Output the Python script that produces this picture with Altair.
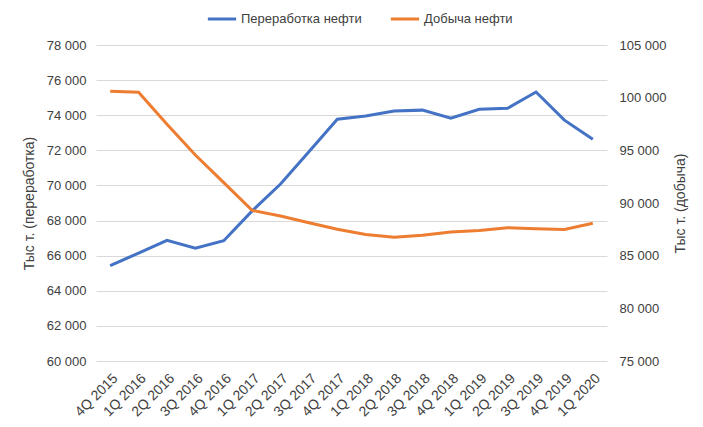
import altair as alt
import pandas as pd

quarters = ["4Q 2015", "1Q 2016", "2Q 2016", "3Q 2016", "4Q 2016", "1Q 2017",
            "2Q 2017", "3Q 2017", "4Q 2017", "1Q 2018", "2Q 2018", "3Q 2018",
            "4Q 2018", "1Q 2019", "2Q 2019", "3Q 2019", "4Q 2019", "1Q 2020"]
refining = [65430, 66150, 66870, 66420, 66850, 68550, 70080, 71920, 73770,
            73950, 74240, 74290, 73830, 74340, 74400, 75320, 73720, 72630]
production = [100600, 100520, 97470, 94550, 91930, 89300, 88760, 88130, 87500,
              87020, 86740, 86930, 87240, 87400, 87650, 87560, 87480, 88070]

series_names = ["Переработка нефти", "Добыча нефти"]
colors = ["#4472C4", "#ED7D31"]

df = pd.DataFrame({"q": quarters, "ref": refining, "prod": production})

FONT = "Liberation Sans"
label_expr = "replace(format(datum.value, ','), ',', ' ')"

x_enc = alt.X("q:O", sort=quarters, title=None,
              scale=alt.Scale(type="point", padding=0.5),
              axis=alt.Axis(labelAngle=-45, labelFontSize=14, labelColor="#404040",
                            labelFont=FONT, domain=False, ticks=False, labelPadding=10,
                            grid=False))

color_scale = alt.Scale(domain=series_names, range=colors)

base = alt.Chart(df)

left = base.mark_line(strokeWidth=3).encode(
    x=x_enc,
    y=alt.Y("ref:Q", title="Тыс т. (переработка)",
            scale=alt.Scale(domain=[60000, 78000], nice=False, zero=False),
            axis=alt.Axis(values=list(range(60000, 78001, 2000)), labelExpr=label_expr,
                          grid=True, gridColor="#D9D9D9", domain=False, ticks=False,
                          labelPadding=10, labelFontSize=13, labelColor="#404040",
                          labelFont=FONT, titleFont=FONT, titleFontSize=14,
                          titleFontWeight="normal", titleColor="#404040",
                          titlePadding=10)),
    color=alt.Color("s:N", scale=color_scale, legend=alt.Legend(
        title=None, orient="none", direction="horizontal", legendX=110, legendY=-42,
        symbolType="stroke", symbolStrokeWidth=3, symbolSize=800,
        labelFontSize=13, labelFont=FONT, labelColor="#404040",
        columnPadding=22, labelOffset=3)),
).transform_calculate(s="'Переработка нефти'")

right = base.mark_line(strokeWidth=3).encode(
    x=x_enc,
    y=alt.Y("prod:Q", title="Тыс т. (добыча)",
            scale=alt.Scale(domain=[75000, 105000], nice=False, zero=False),
            axis=alt.Axis(orient="right", values=list(range(75000, 105001, 5000)),
                          labelExpr=label_expr, grid=False, domain=False, ticks=False,
                          labelPadding=12, labelFontSize=13, labelColor="#404040",
                          labelFont=FONT, titleFont=FONT, titleFontSize=14,
                          titleFontWeight="normal", titleColor="#404040",
                          titleAngle=270, titlePadding=22)),
    color=alt.Color("s:N", scale=color_scale),
).transform_calculate(s="'Добыча нефти'")

chart = alt.layer(left, right).resolve_scale(y="independent").properties(
    width=511, height=316,
    padding={"left": 96, "top": 45, "right": 96, "bottom": 66},
    autosize=alt.AutoSizeParams(type="none"),
    background="white",
).configure_view(stroke=None)

chart.save("out.html", embed_options={"renderer": "svg", "actions": False})
